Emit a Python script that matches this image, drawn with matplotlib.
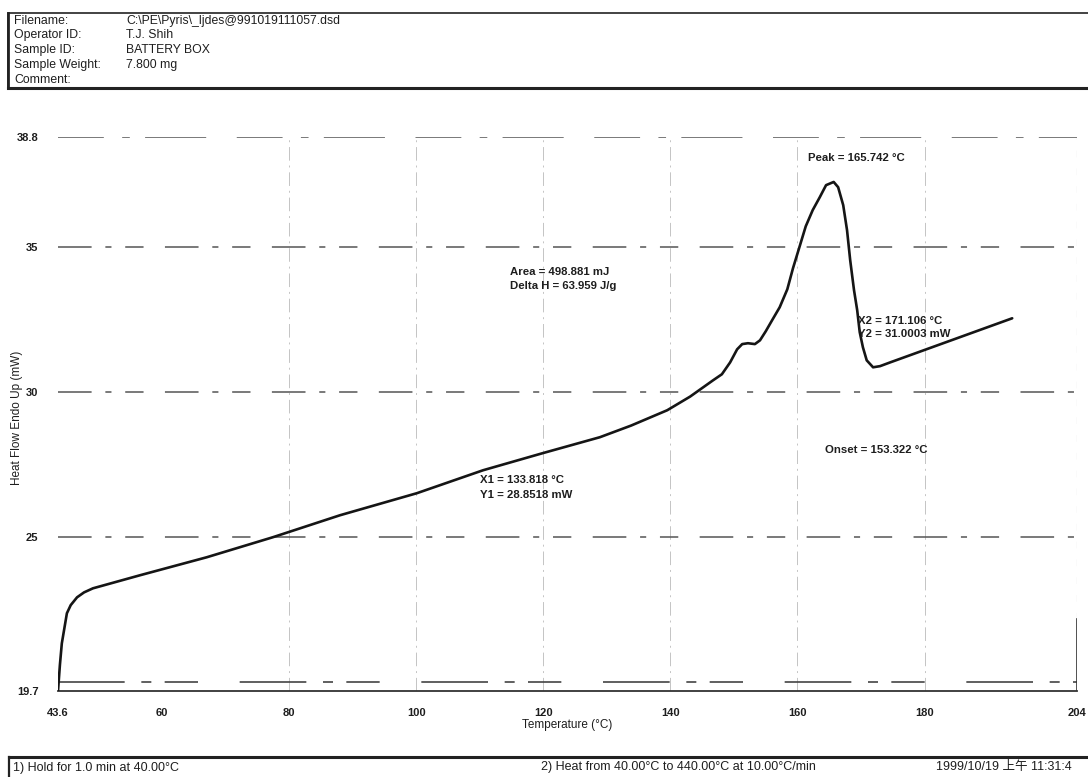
import matplotlib
matplotlib.use("Agg")
import matplotlib.pyplot as plt
from matplotlib.patches import Rectangle
from matplotlib.lines import Line2D

plt.rcParams['font.family'] = ['Liberation Sans', 'Noto Sans CJK SC', 'DejaVu Sans']

# DSC heating scan: temperature (°C) vs heat flow (mW)
temperature = [43.6, 43.9, 44.2, 45.0, 45.6, 46.6, 47.7, 49.1, 56.5, 67.0, 77.4, 88.0,
               100.1, 110.5, 119.9, 128.9, 133.8, 139.5, 143.1, 146.7, 148.1, 149.4,
               150.5, 151.3, 152.2, 153.3, 154.1, 155.0, 156.0, 157.2, 158.4, 159.3,
               160.4, 161.3, 162.4, 163.5, 164.5, 165.7, 166.4, 167.2, 167.8, 168.3,
               168.9, 169.4, 169.8, 170.3, 170.9, 171.9, 173.0, 174.6, 193.8]
heat_flow = [19.7, 20.6, 21.34, 22.38, 22.66, 22.93, 23.1, 23.24, 23.69, 24.31, 25.0, 25.76,
             26.52, 27.31, 27.90, 28.45, 28.85, 29.38, 29.85, 30.41, 30.62, 31.03,
             31.48, 31.66, 31.69, 31.66, 31.79, 32.10, 32.48, 32.93, 33.55, 34.28,
             35.07, 35.72, 36.28, 36.72, 37.14, 37.25, 37.07, 36.45, 35.59, 34.55,
             33.52, 32.83, 32.07, 31.55, 31.10, 30.86, 30.90, 31.03, 32.55]

x_ticks = [43.6, 60, 80, 100, 120, 140, 160, 180, 204]
x_tick_labels = ['43.6', '60', '80', '100', '120', '140', '160', '180', '204']
y_ticks = [19.7, 25, 30, 35, 38.8]
y_tick_labels = ['19.7', '25', '30', '35', '38.8']
x_grid = [80, 100, 120, 140, 160, 180]
y_grid = [25, 30, 35]

header_keys = ['Filename:', 'Operator ID:', 'Sample ID:', 'Sample Weight:', 'Comment:']
header_values = ['C:\\PE\\Pyris\\_ljdes@991019111057.dsd', 'T.J. Shih', 'BATTERY BOX', '7.800 mg', '']

W, H = 1088, 777
fig = plt.figure(figsize=(W / 100, H / 100), dpi=100)


def fx(px):
    return px / W


def fy(py):
    return 1 - py / H


ax = fig.add_axes([fx(58), fy(691), fx(1077) - fx(58), fy(137) - fy(691)])
ax.set_xlim(43.6, 204)
ax.set_ylim(19.7, 38.8)

ink = '#151515'
txt = '#1e1e1e'

# grid: faint vertical lines, darker broken horizontal lines
for gx in x_grid:
    ax.axvline(gx, color='#c4c4c4', lw=0.7, ls=(0, (14, 5, 2, 5)), zorder=1)
for gy in y_grid:
    ax.axhline(gy, color='#555555', lw=1.1, ls=(0, (22, 9, 4, 9, 12, 14)), zorder=1)
ax.axhline(38.8, color='#555555', lw=1.1, ls=(0, (30, 12, 5, 10, 40, 20)), zorder=1)
ax.axhline(20.0, color='#444444', lw=1.2, ls=(0, (40, 10, 6, 8, 20, 25)), zorder=1)
ax.axvline(204, ymin=0, ymax=0.13, color='#333333', lw=1.2, zorder=1)
ax.axvline(204, ymin=0.13, ymax=1, color='#aaaaaa', lw=0.8, ls=(0, (6, 10)), zorder=1)

for s in ['top', 'right', 'left']:
    ax.spines[s].set_visible(False)
ax.spines['bottom'].set_color('#333333')
ax.spines['bottom'].set_linewidth(1.3)

ax.plot(temperature, heat_flow, color=ink, lw=1.9, zorder=3, solid_capstyle='round')

ax.set_xticks(x_ticks)
ax.set_xticklabels(x_tick_labels)
ax.set_yticks(y_ticks)
ax.set_yticklabels(y_tick_labels)
ax.tick_params(axis='both', length=0, labelsize=8, colors=txt)
ax.tick_params(axis='x', pad=12)
ax.tick_params(axis='y', pad=14)
for lab in ax.get_xticklabels() + ax.get_yticklabels():
    lab.set_fontweight('bold')

ax.set_xlabel('Temperature (°C)', fontsize=8.5, color=txt, labelpad=1)
fig.text(fx(17), fy(418), 'Heat Flow Endo Up (mW)', rotation=90, fontsize=8.5,
         color=txt, ha='center', va='center')

# result annotations on the thermogram
ann_kw = dict(fontsize=8.2, color=txt, va='center', ha='left', fontweight='bold')
ax.text(161.7, 38.07, 'Peak = 165.742 °C', **ann_kw)
ax.text(114.75, 34.14, 'Area = 498.881 mJ', **ann_kw)
ax.text(114.75, 33.66, 'Delta H = 63.959 J/g', **ann_kw)
ax.text(169.5, 32.45, 'X2 = 171.106 °C', **ann_kw)
ax.text(169.5, 32.0, 'Y2 = 31.0003 mW', **ann_kw)
ax.text(164.3, 28.0, 'Onset = 153.322 °C', **ann_kw)
ax.text(110.0, 26.97, 'X1 = 133.818 °C', **ann_kw)
ax.text(110.0, 26.45, 'Y1 = 28.8518 mW', **ann_kw)

# header box with sample information
fig.patches.append(Rectangle((fx(8), fy(88)), fx(1100) - fx(8), fy(13) - fy(88),
                             transform=fig.transFigure, fill=False, ec='#222222', lw=1.2))
fig.lines.append(Line2D([fx(8), fx(1088)], [fy(88), fy(88)], transform=fig.transFigure,
                        color='#222222', lw=2.2))
fig.lines.append(Line2D([fx(8), fx(8)], [fy(88), fy(13)], transform=fig.transFigure,
                        color='#222222', lw=2.0))
rows_y = [21, 35, 50, 65, 80]
for k, v, ry in zip(header_keys, header_values, rows_y):
    fig.text(fx(14), fy(ry), k, fontsize=8.8, color=txt, va='center', ha='left')
    if v:
        fig.text(fx(126), fy(ry), v, fontsize=8.8, color=txt, va='center', ha='left')

# footer box with method steps
fig.lines.append(Line2D([fx(9), fx(1088)], [fy(757), fy(757)], transform=fig.transFigure,
                        color='#222222', lw=2.2))
fig.lines.append(Line2D([fx(9), fx(9)], [fy(757), fy(777)], transform=fig.transFigure,
                        color='#222222', lw=1.6))
fig.text(fx(13), fy(768), '1) Hold for 1.0 min at 40.00°C', fontsize=9, color=txt,
         va='center', ha='left')
fig.text(fx(541), fy(767), '2) Heat from 40.00°C to 440.00°C at 10.00°C/min', fontsize=9,
         color=txt, va='center', ha='left')
fig.text(fx(936), fy(767), '1999/10/19 上午 11:31:4', fontsize=9, color=txt,
         va='center', ha='left')

fig.savefig('out.png', dpi=100, facecolor='white')
